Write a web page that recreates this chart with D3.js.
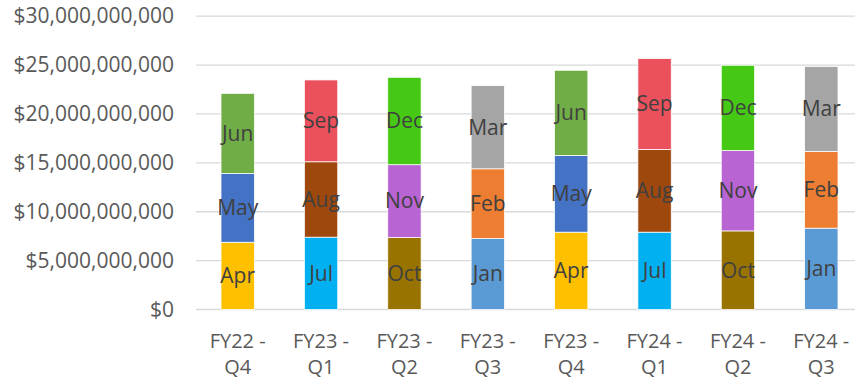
<!DOCTYPE html>
<html>
<head>
<meta charset="utf-8">
<script src="https://cdn.jsdelivr.net/npm/d3@7"></script>
<style>
  html, body { margin: 0; padding: 0; background: #ffffff; }
  svg { display: block; }
</style>
</head>
<body>
<svg id="chart" width="855" height="381"></svg>
<script>
// Quarter labels (two lines each)
const quarters = ["FY22 - Q4", "FY23 - Q1", "FY23 - Q2", "FY23 - Q3", "FY23 - Q4", "FY24 - Q1", "FY24 - Q2", "FY24 - Q3"];

// Month names for the three stacked segments in each quarter (bottom to top)
const monthNames = [
  ["Apr", "May", "Jun"],
  ["Jul", "Aug", "Sep"],
  ["Oct", "Nov", "Dec"],
  ["Jan", "Feb", "Mar"],
  ["Apr", "May", "Jun"],
  ["Jul", "Aug", "Sep"],
  ["Oct", "Nov", "Dec"],
  ["Jan", "Feb", "Mar"]
];

// Monthly amounts in billions of dollars (bottom to top)
const firstMonth  = [6.88, 7.40, 7.36, 7.25, 7.91, 7.91, 8.04, 8.32];
const secondMonth = [7.03, 7.71, 7.45, 7.14, 7.85, 8.46, 8.23, 7.85];
const thirdMonth  = [8.20, 8.37, 8.94, 8.50, 8.71, 9.29, 8.71, 8.68];

// Y axis ticks in dollars
const yTicks = [0, 5e9, 10e9, 15e9, 20e9, 25e9, 30e9];

// Colour for each month
const monthColors = {
  Apr: "#FFC000", May: "#4472C4", Jun: "#70AD47",
  Jul: "#00B0F0", Aug: "#9E480E", Sep: "#EB505D",
  Oct: "#997300", Nov: "#B864D2", Dec: "#45C914",
  Jan: "#5B9BD5", Feb: "#ED7D31", Mar: "#A5A5A5"
};

const svg = d3.select("#chart");
const plotLeft = 196, plotRight = 863, plotTop = 16.2, plotBottom = 309.5;

const x = d3.scaleBand().domain(quarters).range([plotLeft, plotRight]).paddingInner(0.6).paddingOuter(0.3);
const y = d3.scaleLinear().domain([0, 30e9]).range([plotBottom, plotTop]);

const font = "'Open Sans', sans-serif";

// Gridlines
svg.append("g")
  .selectAll("line")
  .data(yTicks)
  .join("line")
  .attr("x1", plotLeft).attr("x2", 855)
  .attr("y1", d => y(d)).attr("y2", d => y(d))
  .attr("stroke", "#D9D9D9").attr("stroke-width", 1.3);

// Y axis labels
const yAxis = d3.axisLeft(y).tickValues(yTicks).tickSize(0).tickPadding(0)
  .tickFormat(d => "$" + d3.format(",")(d));
const gy = svg.append("g").attr("transform", `translate(174,0)`).call(yAxis);
gy.select(".domain").remove();
gy.selectAll("text")
  .attr("font-family", font).attr("font-size", 21).attr("fill", "#595959");

// Stacked rows
const rows = quarters.map((q, i) => ({
  quarter: q,
  m0: firstMonth[i] * 1e9,
  m1: secondMonth[i] * 1e9,
  m2: thirdMonth[i] * 1e9,
  names: monthNames[i]
}));
const stack = d3.stack().keys(["m0", "m1", "m2"]);
const series = stack(rows);

const segs = [];
series.forEach((s, k) => {
  s.forEach(d => {
    segs.push({ quarter: d.data.quarter, y0: d[0], y1: d[1], name: d.data.names[k] });
  });
});

svg.append("g")
  .selectAll("rect")
  .data(segs)
  .join("rect")
  .attr("x", d => x(d.quarter))
  .attr("width", x.bandwidth())
  .attr("y", d => y(d.y1))
  .attr("height", d => y(d.y0) - y(d.y1))
  .attr("fill", d => monthColors[d.name])
  .attr("stroke", "#ffffff")
  .attr("stroke-width", 0.75);

// Month labels centred in each segment
svg.append("g")
  .selectAll("text")
  .data(segs)
  .join("text")
  .attr("x", d => x(d.quarter) + x.bandwidth() / 2)
  .attr("y", d => (y(d.y0) + y(d.y1)) / 2)
  .attr("dy", "0.35em")
  .attr("text-anchor", "middle")
  .attr("font-family", font).attr("font-size", 21)
  .attr("fill", "#404040")
  .text(d => d.name);

// X axis labels on two lines
const xLabelGroup = svg.append("g");
quarters.forEach(q => {
  const cx = x(q) + x.bandwidth() / 2;
  const parts = q.split(" - ");
  [parts[0] + " -", parts[1]].forEach((line, j) => {
    xLabelGroup.append("text")
      .attr("x", cx)
      .attr("y", 341 + j * 26)
      .attr("dy", "0.35em")
      .attr("text-anchor", "middle")
      .attr("font-family", font).attr("font-size", 20)
      .attr("fill", "#595959")
      .text(line);
  });
});
</script>
</body>
</html>
